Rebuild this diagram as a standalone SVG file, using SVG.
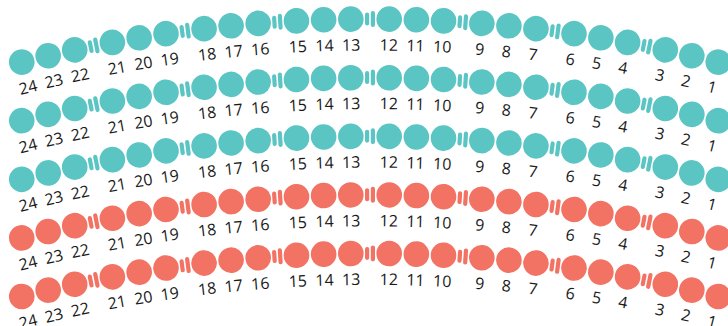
<svg xmlns="http://www.w3.org/2000/svg" xmlns:xlink="http://www.w3.org/1999/xlink" width="728" height="326" viewBox="0 0 728 326">
<style>
text{font-family:"Open Sans","Liberation Sans",sans-serif;font-size:16px;fill:#1a1a1a;text-anchor:middle}
.teal{fill:#5bc5c4}
.coral{fill:#f27263}
</style>
<defs>
<g id="aisle">
<rect x="365" y="12.5" width="4.2" height="13" rx="2.1"/>
<rect x="370.8" y="11" width="4.2" height="16" rx="2.1"/>
</g>
<g id="aisles">
<use xlink:href="#aisle" href="#aisle" transform="rotate(-11.16 370 1447.5)"/>
<use xlink:href="#aisle" href="#aisle" transform="rotate(-7.44 370 1447.5)"/>
<use xlink:href="#aisle" href="#aisle" transform="rotate(-3.72 370 1447.5)"/>
<use xlink:href="#aisle" href="#aisle"/>
<use xlink:href="#aisle" href="#aisle" transform="rotate(3.72 370 1447.5)"/>
<use xlink:href="#aisle" href="#aisle" transform="rotate(7.44 370 1447.5)"/>
<use xlink:href="#aisle" href="#aisle" transform="rotate(11.16 370 1447.5)"/>
</g>
</defs>
<g id="connectors">
<use xlink:href="#aisles" href="#aisles" class="teal"/>
<use xlink:href="#aisles" href="#aisles" class="teal" transform="translate(0,58.6)"/>
<use xlink:href="#aisles" href="#aisles" class="teal" transform="translate(0,117.2)"/>
<use xlink:href="#aisles" href="#aisles" class="coral" transform="translate(0,175.8)"/>
<use xlink:href="#aisles" href="#aisles" class="coral" transform="translate(0,234.4)"/>
</g>
<g id="row1" transform="translate(0,0)">
<g id="r1-s24" transform="rotate(-14.11 370 1447.5)"><circle class="teal" cx="370" cy="19" r="12.8"/><text x="370" y="50.5">24</text></g>
<g id="r1-s23" transform="rotate(-13.02 370 1447.5)"><circle class="teal" cx="370" cy="19" r="12.8"/><text x="370" y="50.5">23</text></g>
<g id="r1-s22" transform="rotate(-11.93 370 1447.5)"><circle class="teal" cx="370" cy="19" r="12.8"/><text x="370" y="50.5">22</text></g>
<g id="r1-s21" transform="rotate(-10.39 370 1447.5)"><circle class="teal" cx="370" cy="19" r="12.8"/><text x="370" y="50.5">21</text></g>
<g id="r1-s20" transform="rotate(-9.30 370 1447.5)"><circle class="teal" cx="370" cy="19" r="12.8"/><text x="370" y="50.5">20</text></g>
<g id="r1-s19" transform="rotate(-8.21 370 1447.5)"><circle class="teal" cx="370" cy="19" r="12.8"/><text x="370" y="50.5">19</text></g>
<g id="r1-s18" transform="rotate(-6.67 370 1447.5)"><circle class="teal" cx="370" cy="19" r="12.8"/><text x="370" y="50.5">18</text></g>
<g id="r1-s17" transform="rotate(-5.58 370 1447.5)"><circle class="teal" cx="370" cy="19" r="12.8"/><text x="370" y="50.5">17</text></g>
<g id="r1-s16" transform="rotate(-4.49 370 1447.5)"><circle class="teal" cx="370" cy="19" r="12.8"/><text x="370" y="50.5">16</text></g>
<g id="r1-s15" transform="rotate(-2.95 370 1447.5)"><circle class="teal" cx="370" cy="19" r="12.8"/><text x="370" y="50.5">15</text></g>
<g id="r1-s14" transform="rotate(-1.86 370 1447.5)"><circle class="teal" cx="370" cy="19" r="12.8"/><text x="370" y="50.5">14</text></g>
<g id="r1-s13" transform="rotate(-0.77 370 1447.5)"><circle class="teal" cx="370" cy="19" r="12.8"/><text x="370" y="50.5">13</text></g>
<g id="r1-s12" transform="rotate(0.77 370 1447.5)"><circle class="teal" cx="370" cy="19" r="12.8"/><text x="370" y="50.5">12</text></g>
<g id="r1-s11" transform="rotate(1.86 370 1447.5)"><circle class="teal" cx="370" cy="19" r="12.8"/><text x="370" y="50.5">11</text></g>
<g id="r1-s10" transform="rotate(2.95 370 1447.5)"><circle class="teal" cx="370" cy="19" r="12.8"/><text x="370" y="50.5">10</text></g>
<g id="r1-s9" transform="rotate(4.49 370 1447.5)"><circle class="teal" cx="370" cy="19" r="12.8"/><text x="370" y="50.5">9</text></g>
<g id="r1-s8" transform="rotate(5.58 370 1447.5)"><circle class="teal" cx="370" cy="19" r="12.8"/><text x="370" y="50.5">8</text></g>
<g id="r1-s7" transform="rotate(6.67 370 1447.5)"><circle class="teal" cx="370" cy="19" r="12.8"/><text x="370" y="50.5">7</text></g>
<g id="r1-s6" transform="rotate(8.21 370 1447.5)"><circle class="teal" cx="370" cy="19" r="12.8"/><text x="370" y="50.5">6</text></g>
<g id="r1-s5" transform="rotate(9.30 370 1447.5)"><circle class="teal" cx="370" cy="19" r="12.8"/><text x="370" y="50.5">5</text></g>
<g id="r1-s4" transform="rotate(10.39 370 1447.5)"><circle class="teal" cx="370" cy="19" r="12.8"/><text x="370" y="50.5">4</text></g>
<g id="r1-s3" transform="rotate(11.93 370 1447.5)"><circle class="teal" cx="370" cy="19" r="12.8"/><text x="370" y="50.5">3</text></g>
<g id="r1-s2" transform="rotate(13.02 370 1447.5)"><circle class="teal" cx="370" cy="19" r="12.8"/><text x="370" y="50.5">2</text></g>
<g id="r1-s1" transform="rotate(14.11 370 1447.5)"><circle class="teal" cx="370" cy="19" r="12.8"/><text x="370" y="50.5">1</text></g>
</g>
<g id="row2" transform="translate(0,58.6)">
<g id="r2-s24" transform="rotate(-14.11 370 1447.5)"><circle class="teal" cx="370" cy="19" r="12.8"/><text x="370" y="50.5">24</text></g>
<g id="r2-s23" transform="rotate(-13.02 370 1447.5)"><circle class="teal" cx="370" cy="19" r="12.8"/><text x="370" y="50.5">23</text></g>
<g id="r2-s22" transform="rotate(-11.93 370 1447.5)"><circle class="teal" cx="370" cy="19" r="12.8"/><text x="370" y="50.5">22</text></g>
<g id="r2-s21" transform="rotate(-10.39 370 1447.5)"><circle class="teal" cx="370" cy="19" r="12.8"/><text x="370" y="50.5">21</text></g>
<g id="r2-s20" transform="rotate(-9.30 370 1447.5)"><circle class="teal" cx="370" cy="19" r="12.8"/><text x="370" y="50.5">20</text></g>
<g id="r2-s19" transform="rotate(-8.21 370 1447.5)"><circle class="teal" cx="370" cy="19" r="12.8"/><text x="370" y="50.5">19</text></g>
<g id="r2-s18" transform="rotate(-6.67 370 1447.5)"><circle class="teal" cx="370" cy="19" r="12.8"/><text x="370" y="50.5">18</text></g>
<g id="r2-s17" transform="rotate(-5.58 370 1447.5)"><circle class="teal" cx="370" cy="19" r="12.8"/><text x="370" y="50.5">17</text></g>
<g id="r2-s16" transform="rotate(-4.49 370 1447.5)"><circle class="teal" cx="370" cy="19" r="12.8"/><text x="370" y="50.5">16</text></g>
<g id="r2-s15" transform="rotate(-2.95 370 1447.5)"><circle class="teal" cx="370" cy="19" r="12.8"/><text x="370" y="50.5">15</text></g>
<g id="r2-s14" transform="rotate(-1.86 370 1447.5)"><circle class="teal" cx="370" cy="19" r="12.8"/><text x="370" y="50.5">14</text></g>
<g id="r2-s13" transform="rotate(-0.77 370 1447.5)"><circle class="teal" cx="370" cy="19" r="12.8"/><text x="370" y="50.5">13</text></g>
<g id="r2-s12" transform="rotate(0.77 370 1447.5)"><circle class="teal" cx="370" cy="19" r="12.8"/><text x="370" y="50.5">12</text></g>
<g id="r2-s11" transform="rotate(1.86 370 1447.5)"><circle class="teal" cx="370" cy="19" r="12.8"/><text x="370" y="50.5">11</text></g>
<g id="r2-s10" transform="rotate(2.95 370 1447.5)"><circle class="teal" cx="370" cy="19" r="12.8"/><text x="370" y="50.5">10</text></g>
<g id="r2-s9" transform="rotate(4.49 370 1447.5)"><circle class="teal" cx="370" cy="19" r="12.8"/><text x="370" y="50.5">9</text></g>
<g id="r2-s8" transform="rotate(5.58 370 1447.5)"><circle class="teal" cx="370" cy="19" r="12.8"/><text x="370" y="50.5">8</text></g>
<g id="r2-s7" transform="rotate(6.67 370 1447.5)"><circle class="teal" cx="370" cy="19" r="12.8"/><text x="370" y="50.5">7</text></g>
<g id="r2-s6" transform="rotate(8.21 370 1447.5)"><circle class="teal" cx="370" cy="19" r="12.8"/><text x="370" y="50.5">6</text></g>
<g id="r2-s5" transform="rotate(9.30 370 1447.5)"><circle class="teal" cx="370" cy="19" r="12.8"/><text x="370" y="50.5">5</text></g>
<g id="r2-s4" transform="rotate(10.39 370 1447.5)"><circle class="teal" cx="370" cy="19" r="12.8"/><text x="370" y="50.5">4</text></g>
<g id="r2-s3" transform="rotate(11.93 370 1447.5)"><circle class="teal" cx="370" cy="19" r="12.8"/><text x="370" y="50.5">3</text></g>
<g id="r2-s2" transform="rotate(13.02 370 1447.5)"><circle class="teal" cx="370" cy="19" r="12.8"/><text x="370" y="50.5">2</text></g>
<g id="r2-s1" transform="rotate(14.11 370 1447.5)"><circle class="teal" cx="370" cy="19" r="12.8"/><text x="370" y="50.5">1</text></g>
</g>
<g id="row3" transform="translate(0,117.2)">
<g id="r3-s24" transform="rotate(-14.11 370 1447.5)"><circle class="teal" cx="370" cy="19" r="12.8"/><text x="370" y="50.5">24</text></g>
<g id="r3-s23" transform="rotate(-13.02 370 1447.5)"><circle class="teal" cx="370" cy="19" r="12.8"/><text x="370" y="50.5">23</text></g>
<g id="r3-s22" transform="rotate(-11.93 370 1447.5)"><circle class="teal" cx="370" cy="19" r="12.8"/><text x="370" y="50.5">22</text></g>
<g id="r3-s21" transform="rotate(-10.39 370 1447.5)"><circle class="teal" cx="370" cy="19" r="12.8"/><text x="370" y="50.5">21</text></g>
<g id="r3-s20" transform="rotate(-9.30 370 1447.5)"><circle class="teal" cx="370" cy="19" r="12.8"/><text x="370" y="50.5">20</text></g>
<g id="r3-s19" transform="rotate(-8.21 370 1447.5)"><circle class="teal" cx="370" cy="19" r="12.8"/><text x="370" y="50.5">19</text></g>
<g id="r3-s18" transform="rotate(-6.67 370 1447.5)"><circle class="teal" cx="370" cy="19" r="12.8"/><text x="370" y="50.5">18</text></g>
<g id="r3-s17" transform="rotate(-5.58 370 1447.5)"><circle class="teal" cx="370" cy="19" r="12.8"/><text x="370" y="50.5">17</text></g>
<g id="r3-s16" transform="rotate(-4.49 370 1447.5)"><circle class="teal" cx="370" cy="19" r="12.8"/><text x="370" y="50.5">16</text></g>
<g id="r3-s15" transform="rotate(-2.95 370 1447.5)"><circle class="teal" cx="370" cy="19" r="12.8"/><text x="370" y="50.5">15</text></g>
<g id="r3-s14" transform="rotate(-1.86 370 1447.5)"><circle class="teal" cx="370" cy="19" r="12.8"/><text x="370" y="50.5">14</text></g>
<g id="r3-s13" transform="rotate(-0.77 370 1447.5)"><circle class="teal" cx="370" cy="19" r="12.8"/><text x="370" y="50.5">13</text></g>
<g id="r3-s12" transform="rotate(0.77 370 1447.5)"><circle class="teal" cx="370" cy="19" r="12.8"/><text x="370" y="50.5">12</text></g>
<g id="r3-s11" transform="rotate(1.86 370 1447.5)"><circle class="teal" cx="370" cy="19" r="12.8"/><text x="370" y="50.5">11</text></g>
<g id="r3-s10" transform="rotate(2.95 370 1447.5)"><circle class="teal" cx="370" cy="19" r="12.8"/><text x="370" y="50.5">10</text></g>
<g id="r3-s9" transform="rotate(4.49 370 1447.5)"><circle class="teal" cx="370" cy="19" r="12.8"/><text x="370" y="50.5">9</text></g>
<g id="r3-s8" transform="rotate(5.58 370 1447.5)"><circle class="teal" cx="370" cy="19" r="12.8"/><text x="370" y="50.5">8</text></g>
<g id="r3-s7" transform="rotate(6.67 370 1447.5)"><circle class="teal" cx="370" cy="19" r="12.8"/><text x="370" y="50.5">7</text></g>
<g id="r3-s6" transform="rotate(8.21 370 1447.5)"><circle class="teal" cx="370" cy="19" r="12.8"/><text x="370" y="50.5">6</text></g>
<g id="r3-s5" transform="rotate(9.30 370 1447.5)"><circle class="teal" cx="370" cy="19" r="12.8"/><text x="370" y="50.5">5</text></g>
<g id="r3-s4" transform="rotate(10.39 370 1447.5)"><circle class="teal" cx="370" cy="19" r="12.8"/><text x="370" y="50.5">4</text></g>
<g id="r3-s3" transform="rotate(11.93 370 1447.5)"><circle class="teal" cx="370" cy="19" r="12.8"/><text x="370" y="50.5">3</text></g>
<g id="r3-s2" transform="rotate(13.02 370 1447.5)"><circle class="teal" cx="370" cy="19" r="12.8"/><text x="370" y="50.5">2</text></g>
<g id="r3-s1" transform="rotate(14.11 370 1447.5)"><circle class="teal" cx="370" cy="19" r="12.8"/><text x="370" y="50.5">1</text></g>
</g>
<g id="row4" transform="translate(0,175.8)">
<g id="r4-s24" transform="rotate(-14.11 370 1447.5)"><circle class="coral" cx="370" cy="19" r="12.8"/><text x="370" y="50.5">24</text></g>
<g id="r4-s23" transform="rotate(-13.02 370 1447.5)"><circle class="coral" cx="370" cy="19" r="12.8"/><text x="370" y="50.5">23</text></g>
<g id="r4-s22" transform="rotate(-11.93 370 1447.5)"><circle class="coral" cx="370" cy="19" r="12.8"/><text x="370" y="50.5">22</text></g>
<g id="r4-s21" transform="rotate(-10.39 370 1447.5)"><circle class="coral" cx="370" cy="19" r="12.8"/><text x="370" y="50.5">21</text></g>
<g id="r4-s20" transform="rotate(-9.30 370 1447.5)"><circle class="coral" cx="370" cy="19" r="12.8"/><text x="370" y="50.5">20</text></g>
<g id="r4-s19" transform="rotate(-8.21 370 1447.5)"><circle class="coral" cx="370" cy="19" r="12.8"/><text x="370" y="50.5">19</text></g>
<g id="r4-s18" transform="rotate(-6.67 370 1447.5)"><circle class="coral" cx="370" cy="19" r="12.8"/><text x="370" y="50.5">18</text></g>
<g id="r4-s17" transform="rotate(-5.58 370 1447.5)"><circle class="coral" cx="370" cy="19" r="12.8"/><text x="370" y="50.5">17</text></g>
<g id="r4-s16" transform="rotate(-4.49 370 1447.5)"><circle class="coral" cx="370" cy="19" r="12.8"/><text x="370" y="50.5">16</text></g>
<g id="r4-s15" transform="rotate(-2.95 370 1447.5)"><circle class="coral" cx="370" cy="19" r="12.8"/><text x="370" y="50.5">15</text></g>
<g id="r4-s14" transform="rotate(-1.86 370 1447.5)"><circle class="coral" cx="370" cy="19" r="12.8"/><text x="370" y="50.5">14</text></g>
<g id="r4-s13" transform="rotate(-0.77 370 1447.5)"><circle class="coral" cx="370" cy="19" r="12.8"/><text x="370" y="50.5">13</text></g>
<g id="r4-s12" transform="rotate(0.77 370 1447.5)"><circle class="coral" cx="370" cy="19" r="12.8"/><text x="370" y="50.5">12</text></g>
<g id="r4-s11" transform="rotate(1.86 370 1447.5)"><circle class="coral" cx="370" cy="19" r="12.8"/><text x="370" y="50.5">11</text></g>
<g id="r4-s10" transform="rotate(2.95 370 1447.5)"><circle class="coral" cx="370" cy="19" r="12.8"/><text x="370" y="50.5">10</text></g>
<g id="r4-s9" transform="rotate(4.49 370 1447.5)"><circle class="coral" cx="370" cy="19" r="12.8"/><text x="370" y="50.5">9</text></g>
<g id="r4-s8" transform="rotate(5.58 370 1447.5)"><circle class="coral" cx="370" cy="19" r="12.8"/><text x="370" y="50.5">8</text></g>
<g id="r4-s7" transform="rotate(6.67 370 1447.5)"><circle class="coral" cx="370" cy="19" r="12.8"/><text x="370" y="50.5">7</text></g>
<g id="r4-s6" transform="rotate(8.21 370 1447.5)"><circle class="coral" cx="370" cy="19" r="12.8"/><text x="370" y="50.5">6</text></g>
<g id="r4-s5" transform="rotate(9.30 370 1447.5)"><circle class="coral" cx="370" cy="19" r="12.8"/><text x="370" y="50.5">5</text></g>
<g id="r4-s4" transform="rotate(10.39 370 1447.5)"><circle class="coral" cx="370" cy="19" r="12.8"/><text x="370" y="50.5">4</text></g>
<g id="r4-s3" transform="rotate(11.93 370 1447.5)"><circle class="coral" cx="370" cy="19" r="12.8"/><text x="370" y="50.5">3</text></g>
<g id="r4-s2" transform="rotate(13.02 370 1447.5)"><circle class="coral" cx="370" cy="19" r="12.8"/><text x="370" y="50.5">2</text></g>
<g id="r4-s1" transform="rotate(14.11 370 1447.5)"><circle class="coral" cx="370" cy="19" r="12.8"/><text x="370" y="50.5">1</text></g>
</g>
<g id="row5" transform="translate(0,234.4)">
<g id="r5-s24" transform="rotate(-14.11 370 1447.5)"><circle class="coral" cx="370" cy="19" r="12.8"/><text x="370" y="50.5">24</text></g>
<g id="r5-s23" transform="rotate(-13.02 370 1447.5)"><circle class="coral" cx="370" cy="19" r="12.8"/><text x="370" y="50.5">23</text></g>
<g id="r5-s22" transform="rotate(-11.93 370 1447.5)"><circle class="coral" cx="370" cy="19" r="12.8"/><text x="370" y="50.5">22</text></g>
<g id="r5-s21" transform="rotate(-10.39 370 1447.5)"><circle class="coral" cx="370" cy="19" r="12.8"/><text x="370" y="50.5">21</text></g>
<g id="r5-s20" transform="rotate(-9.30 370 1447.5)"><circle class="coral" cx="370" cy="19" r="12.8"/><text x="370" y="50.5">20</text></g>
<g id="r5-s19" transform="rotate(-8.21 370 1447.5)"><circle class="coral" cx="370" cy="19" r="12.8"/><text x="370" y="50.5">19</text></g>
<g id="r5-s18" transform="rotate(-6.67 370 1447.5)"><circle class="coral" cx="370" cy="19" r="12.8"/><text x="370" y="50.5">18</text></g>
<g id="r5-s17" transform="rotate(-5.58 370 1447.5)"><circle class="coral" cx="370" cy="19" r="12.8"/><text x="370" y="50.5">17</text></g>
<g id="r5-s16" transform="rotate(-4.49 370 1447.5)"><circle class="coral" cx="370" cy="19" r="12.8"/><text x="370" y="50.5">16</text></g>
<g id="r5-s15" transform="rotate(-2.95 370 1447.5)"><circle class="coral" cx="370" cy="19" r="12.8"/><text x="370" y="50.5">15</text></g>
<g id="r5-s14" transform="rotate(-1.86 370 1447.5)"><circle class="coral" cx="370" cy="19" r="12.8"/><text x="370" y="50.5">14</text></g>
<g id="r5-s13" transform="rotate(-0.77 370 1447.5)"><circle class="coral" cx="370" cy="19" r="12.8"/><text x="370" y="50.5">13</text></g>
<g id="r5-s12" transform="rotate(0.77 370 1447.5)"><circle class="coral" cx="370" cy="19" r="12.8"/><text x="370" y="50.5">12</text></g>
<g id="r5-s11" transform="rotate(1.86 370 1447.5)"><circle class="coral" cx="370" cy="19" r="12.8"/><text x="370" y="50.5">11</text></g>
<g id="r5-s10" transform="rotate(2.95 370 1447.5)"><circle class="coral" cx="370" cy="19" r="12.8"/><text x="370" y="50.5">10</text></g>
<g id="r5-s9" transform="rotate(4.49 370 1447.5)"><circle class="coral" cx="370" cy="19" r="12.8"/><text x="370" y="50.5">9</text></g>
<g id="r5-s8" transform="rotate(5.58 370 1447.5)"><circle class="coral" cx="370" cy="19" r="12.8"/><text x="370" y="50.5">8</text></g>
<g id="r5-s7" transform="rotate(6.67 370 1447.5)"><circle class="coral" cx="370" cy="19" r="12.8"/><text x="370" y="50.5">7</text></g>
<g id="r5-s6" transform="rotate(8.21 370 1447.5)"><circle class="coral" cx="370" cy="19" r="12.8"/><text x="370" y="50.5">6</text></g>
<g id="r5-s5" transform="rotate(9.30 370 1447.5)"><circle class="coral" cx="370" cy="19" r="12.8"/><text x="370" y="50.5">5</text></g>
<g id="r5-s4" transform="rotate(10.39 370 1447.5)"><circle class="coral" cx="370" cy="19" r="12.8"/><text x="370" y="50.5">4</text></g>
<g id="r5-s3" transform="rotate(11.93 370 1447.5)"><circle class="coral" cx="370" cy="19" r="12.8"/><text x="370" y="50.5">3</text></g>
<g id="r5-s2" transform="rotate(13.02 370 1447.5)"><circle class="coral" cx="370" cy="19" r="12.8"/><text x="370" y="50.5">2</text></g>
<g id="r5-s1" transform="rotate(14.11 370 1447.5)"><circle class="coral" cx="370" cy="19" r="12.8"/><text x="370" y="50.5">1</text></g>
</g>
</svg>
